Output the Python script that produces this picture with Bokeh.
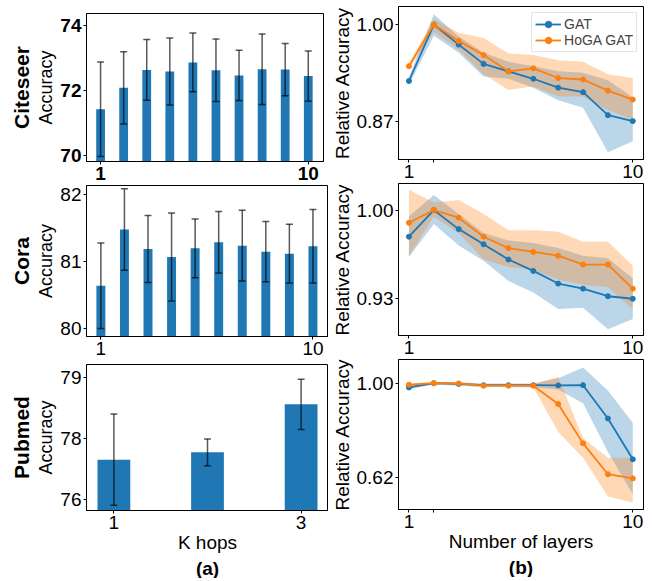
from bokeh.plotting import figure
from bokeh.models import ColumnDataSource, Whisker, TeeHead, FixedTicker, Range1d, Title
from bokeh.layouts import row, column
from bokeh.embed import file_html
from bokeh.resources import INLINE

FONT = "Liberation Sans"
BLUE = "#1f77b4"
ORANGE = "#ff7f0e"

# ---------------- data: (a) accuracy vs K hops ----------------
k_hops_10 = [1, 2, 3, 4, 5, 6, 7, 8, 9, 10]
citeseer_acc = [71.42, 72.08, 72.63, 72.58, 72.86, 72.62, 72.46, 72.65, 72.64, 72.44]
citeseer_std = [1.45, 1.11, 0.93, 1.03, 0.90, 0.96, 0.77, 1.08, 0.80, 0.77]
cora_acc = [80.64, 81.48, 81.19, 81.07, 81.20, 81.29, 81.24, 81.15, 81.12, 81.23]
cora_std = [0.64, 0.61, 0.50, 0.66, 0.44, 0.46, 0.53, 0.45, 0.44, 0.55]
k_hops_3 = [1, 2, 3]
pubmed_acc = [76.99, 77.17, 78.35]
pubmed_std = [1.12, 0.33, 0.62]

# ---------------- data: (b) relative accuracy vs number of layers ----------------
layers = [1, 2, 3, 4, 5, 6, 7, 8, 9, 10]
cite_gat = [0.924, 1.000, 0.973, 0.947, 0.937, 0.927, 0.915, 0.909, 0.878, 0.870]
cite_gat_lo = [0.919, 0.985, 0.962, 0.930, 0.927, 0.915, 0.898, 0.888, 0.828, 0.843]
cite_gat_hi = [0.929, 1.014, 0.984, 0.962, 0.950, 0.944, 0.937, 0.935, 0.925, 0.902]
cite_hoga = [0.944, 1.000, 0.978, 0.959, 0.937, 0.941, 0.928, 0.926, 0.911, 0.899]
cite_hoga_lo = [0.940, 0.990, 0.966, 0.933, 0.912, 0.917, 0.903, 0.903, 0.885, 0.872]
cite_hoga_hi = [0.948, 1.007, 0.989, 0.982, 0.961, 0.959, 0.952, 0.950, 0.933, 0.928]

cora_gat = [0.979, 1.000, 0.985, 0.973, 0.961, 0.952, 0.942, 0.938, 0.932, 0.930]
cora_gat_lo = [0.963, 0.989, 0.972, 0.960, 0.944, 0.935, 0.922, 0.923, 0.906, 0.914]
cora_gat_hi = [0.995, 1.012, 0.997, 0.982, 0.976, 0.974, 0.970, 0.964, 0.962, 0.946]
cora_hoga = [0.990, 1.000, 0.994, 0.979, 0.970, 0.967, 0.964, 0.957, 0.957, 0.938]
cora_hoga_lo = [0.964, 0.995, 0.982, 0.961, 0.955, 0.953, 0.945, 0.941, 0.939, 0.922]
cora_hoga_hi = [1.016, 1.006, 1.008, 0.997, 0.984, 0.984, 0.983, 0.975, 0.975, 0.956]

pub_gat = [0.983, 1.000, 0.997, 0.992, 0.992, 0.992, 0.991, 0.992, 0.858, 0.694]
pub_gat_lo = [0.976, 0.995, 0.990, 0.985, 0.985, 0.984, 0.975, 0.919, 0.723, 0.553]
pub_gat_hi = [0.990, 1.005, 1.004, 0.999, 0.999, 0.999, 1.020, 1.063, 0.971, 0.840]
pub_hoga = [0.994, 1.000, 0.999, 0.990, 0.990, 0.990, 0.916, 0.758, 0.634, 0.617]
pub_hoga_lo = [0.988, 0.995, 0.993, 0.984, 0.984, 0.984, 0.804, 0.700, 0.544, 0.520]
pub_hoga_hi = [0.999, 1.004, 1.003, 0.996, 0.996, 0.996, 1.026, 0.780, 0.700, 0.700]


def style(p, bold_ticks=False):
    p.grid.visible = False
    p.outline_line_color = "black"
    p.outline_line_width = 1
    p.background_fill_color = "white"
    p.border_fill_color = "white"
    for ax in p.axis:
        ax.axis_line_color = "black"
        ax.axis_line_width = 1
        ax.major_tick_out = 3
        ax.major_tick_in = 0
        ax.minor_tick_out = 0
        ax.minor_tick_in = 0
        ax.major_tick_line_color = "black"
        ax.major_label_standoff = 2
        ax.major_label_text_font = FONT
        ax.major_label_text_font_size = "19px"
        ax.major_label_text_color = "black"
        ax.major_label_text_font_style = "bold" if bold_ticks else "normal"
        ax.axis_label_text_font = FONT
        ax.axis_label_text_font_style = "normal"
        ax.axis_label_text_color = "black"
        ax.axis_label_standoff = 1


def bar_panel(name, xs, means, stds, xr, yr, yticks, xticks, fh, fw, mbl, mbt, mbb,
              bold=False, overrides=None, xlabel=None, sub=None, bar_w=0.38):
    p = figure(frame_width=fw, frame_height=fh, min_border_left=mbl, min_border_right=5,
               min_border_top=mbt, min_border_bottom=mbb,
               x_range=Range1d(*xr), y_range=Range1d(*yr),
               output_backend="svg", toolbar_location=None)
    src = ColumnDataSource(dict(x=xs, top=means,
                                upper=[m + s for m, s in zip(means, stds)],
                                lower=[m - s for m, s in zip(means, stds)]))
    p.vbar(x="x", top="top", bottom=0, width=bar_w, source=src, fill_color=BLUE, line_color=None)
    head = dict(size=7, line_color="black", line_alpha=0.65, line_width=1.5)
    w = Whisker(base="x", upper="upper", lower="lower", source=src, level="annotation",
                line_color="black", line_alpha=0.65, line_width=1.5,
                upper_head=TeeHead(**head), lower_head=TeeHead(**head))
    p.add_layout(w)
    style(p, bold)
    p.yaxis.ticker = FixedTicker(ticks=yticks)
    p.xaxis.ticker = FixedTicker(ticks=xticks)
    if overrides:
        p.yaxis.major_label_overrides = overrides
    p.yaxis.axis_label = "Accuracy"
    p.yaxis.axis_label_text_font_size = "18px"
    if xlabel:
        p.xaxis.axis_label = xlabel
        p.xaxis.axis_label_text_font_size = "19px"
        p.xaxis.axis_label_standoff = 0
    if sub:
        p.add_layout(Title(text=sub, align="center", text_font=FONT, text_font_size="19px",
                           text_font_style="bold", text_color="black", standoff=0), "below")
    p.add_layout(Title(text=name, align="center", text_font=FONT, text_font_size="21px",
                       text_font_style="bold", text_color="black", standoff=2), "left")
    return p


def line_panel(x, gat, glo, ghi, hoga, hlo, hhi, yr, yticks, ylabels, xticks, fh, mbt, mbb,
               legend=False, xlabel=None, sub=None):
    p = figure(frame_width=245, frame_height=fh, min_border_left=68, min_border_right=3,
               min_border_top=mbt, min_border_bottom=mbb,
               x_range=Range1d(0.58, 10.43), y_range=Range1d(*yr),
               output_backend="svg", toolbar_location=None)
    p.varea(x=x, y1=glo, y2=ghi, fill_color=BLUE, fill_alpha=0.3)
    p.varea(x=x, y1=hlo, y2=hhi, fill_color=ORANGE, fill_alpha=0.3)
    kw_g = dict(legend_label="GAT") if legend else {}
    kw_h = dict(legend_label="HoGA GAT") if legend else {}
    p.line(x, gat, line_color=BLUE, line_width=1.8, **kw_g)
    p.scatter(x, gat, size=5, fill_color=BLUE, line_color=BLUE, **kw_g)
    p.line(x, hoga, line_color=ORANGE, line_width=1.8, **kw_h)
    p.scatter(x, hoga, size=5, fill_color=ORANGE, line_color=ORANGE, **kw_h)
    style(p)
    p.yaxis.ticker = FixedTicker(ticks=yticks)
    p.yaxis.major_label_overrides = {t: l for t, l in zip(yticks, ylabels)}
    p.xaxis.ticker = FixedTicker(ticks=xticks)
    p.xaxis.major_label_overrides = {t: ("" if t not in (1, 10) else str(t)) for t in xticks}
    p.yaxis.axis_label = "Relative Accuracy"
    p.yaxis.axis_label_text_font_size = "19px"
    if xlabel:
        p.xaxis.axis_label = xlabel
        p.xaxis.axis_label_text_font_size = "19px"
        p.xaxis.axis_label_standoff = 0
    if sub:
        p.add_layout(Title(text=sub, align="center", text_font=FONT, text_font_size="19px",
                           text_font_style="bold", text_color="black", standoff=0), "below")
    if legend:
        lg = p.legend[0]
        lg.location = "top_right"
        lg.margin = 6
        lg.padding = 3
        lg.spacing = 0
        lg.label_text_font = FONT
        lg.label_text_font_size = "14px"
        lg.label_height = 16
        lg.glyph_height = 16
        lg.glyph_width = 26
        lg.label_standoff = 3
        lg.border_line_color = "#cccccc"
        lg.border_line_width = 1
        lg.background_fill_alpha = 0.85
    return p


l1 = bar_panel("Citeseer", k_hops_10, citeseer_acc, citeseer_std, (0.39, 10.66), (69.82, 74.36),
               [70, 72, 74], [1, 10], 148, 237, 86, 13, 24, bold=True)
l2 = bar_panel("Cora", k_hops_10, cora_acc, cora_std, (0.39, 10.66), (79.88, 82.14),
               [80, 81, 82], [1, 10], 151, 242, 81, 0, 28)
l3 = bar_panel("Pubmed", k_hops_3, pubmed_acc, pubmed_std, (0.7075, 3.2925), (75.74, 79.33),
               [76, 77.5, 79], [1, 3], 146, 242, 81, 0, 20,
               overrides={77.5: "78"}, xlabel="K hops", sub="(a)", bar_w=0.35)

r1 = line_panel(layers, cite_gat, cite_gat_lo, cite_gat_hi, cite_hoga, cite_hoga_lo, cite_hoga_hi,
                (0.8183, 1.0243), [0.87, 1.0], ["0.87", "1.00"], [1, 2, 10], 153, 6, 24, legend=True)
r2 = line_panel(layers, cora_gat, cora_gat_lo, cora_gat_hi, cora_hoga, cora_hoga_lo, cora_hoga_hi,
                (0.901, 1.021), [0.93, 1.0], ["0.93", "1.00"], [1, 10], 152, 0, 24)
r3 = line_panel(layers, pub_gat, pub_gat_lo, pub_gat_hi, pub_hoga, pub_hoga_lo, pub_hoga_hi,
                (0.492, 1.0953), [0.62, 1.0], ["0.62", "1.00"], [1, 2, 10], 150, 0, 20,
                xlabel="Number of layers", sub="(b)")

layout = row(column(l1, l2, l3), column(r1, r2, r3))
open("out.html", "w").write(file_html(layout, INLINE))
